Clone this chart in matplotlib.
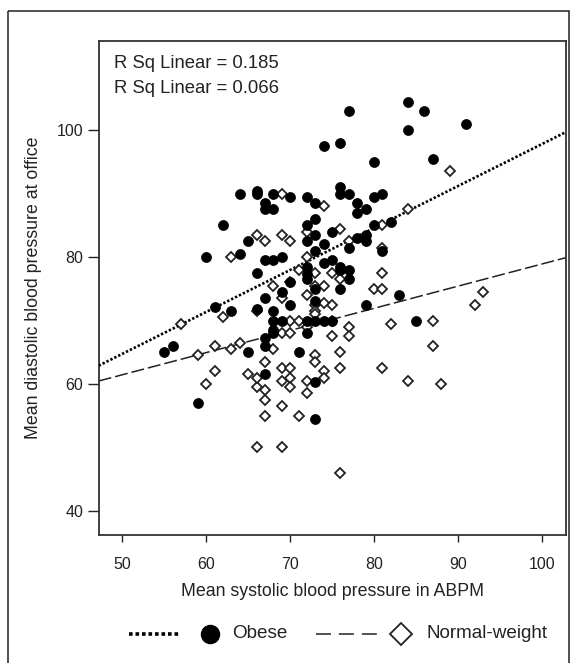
import matplotlib
matplotlib.use("Agg")
import matplotlib.pyplot as plt
import numpy as np
from matplotlib.patches import Rectangle

# ---------------- data ----------------
obese_x = [55, 56, 59, 60, 61, 62, 63, 64, 64, 65, 65, 66, 66, 66, 66,
           67, 67, 68, 68, 67, 68, 69, 67, 68, 68, 69, 69, 70, 70, 70,
           68, 67, 67, 67, 71, 72, 73, 73, 72, 73, 72, 74, 73, 74, 72,
           72, 72, 73, 73, 72, 73, 74, 72, 73, 73, 74, 75, 75, 76, 76,
           76, 77, 76, 76, 77, 77, 77, 76, 77, 78, 78, 79, 78, 79, 79,
           79, 80, 80, 80, 81, 81, 82, 83, 84, 84, 85, 86, 87, 91, 68, 75]
obese_y = [65.1, 66.0, 57.0, 80.0, 72.1, 85.1, 71.5, 90.0, 80.5, 82.5, 65.1, 90.4, 90.0, 77.5, 71.8,
           88.5, 87.5, 87.5, 90.0, 79.5, 79.5, 80.0, 73.5, 71.5, 70.0, 70.0, 74.5, 89.5, 76.0, 72.5,
           68.5, 67.3, 66.0, 61.6, 65.0, 89.5, 88.5, 86.0, 85.0, 83.5, 82.5, 82.0, 81.0, 79.0, 78.5,
           77.4, 76.5, 75.0, 73.0, 70.0, 70.0, 70.0, 68.0, 60.3, 54.5, 97.5, 84.0, 79.5, 98.0, 91.0,
           90.0, 90.0, 78.5, 75.0, 78.0, 81.5, 76.5, 78.0, 103.0, 88.5, 87.0, 87.5, 83.0, 83.5, 82.5,
           72.5, 95.0, 89.5, 85.0, 90.0, 81.0, 85.5, 74.0, 104.5, 100.0, 70.0, 103.0, 95.5, 101.0, 68.0, 70.0]

normal_x = [57, 59, 60, 61, 61, 62, 63, 63, 64, 65, 66, 66, 66, 66, 66,
            67, 67, 67, 67, 67, 68, 68, 69, 69, 69, 69, 69, 69, 69, 69,
            70, 70, 70, 70, 70, 70, 70, 71, 71, 71, 72, 72, 72, 72, 72,
            72, 73, 73, 73, 73, 73, 73, 74, 74, 74, 74, 75, 75, 75, 75,
            76, 76, 76, 76, 76, 77, 77, 77, 80, 81, 81, 81, 81, 81, 82,
            84, 84, 87, 87, 88, 89, 92, 93, 73, 74]
normal_y = [69.5, 64.5, 60.0, 62.0, 66.0, 70.5, 65.5, 80.0, 66.5, 61.5, 83.5, 71.5, 59.5, 61.0, 50.0,
            82.5, 63.5, 59.0, 57.5, 55.0, 75.5, 65.5, 90.0, 83.5, 73.5, 68.0, 62.5, 60.5, 56.5, 50.0,
            82.5, 76.0, 70.0, 68.0, 62.5, 61.0, 59.5, 78.0, 70.0, 55.0, 84.0, 80.0, 74.0, 69.0, 60.5,
            58.5, 77.5, 75.5, 72.5, 71.5, 64.5, 63.5, 88.0, 75.5, 62.0, 61.0, 77.5, 72.5, 70.0, 67.5,
            84.5, 76.5, 65.0, 62.5, 46.0, 82.5, 69.0, 67.5, 75.0, 85.0, 81.5, 77.5, 75.0, 62.5, 69.5,
            87.5, 60.5, 70.0, 66.0, 60.0, 93.5, 72.5, 74.5, 71.0, 72.7]

# fitted lines (intercept, slope)
fit_obese = (31.7, 0.661)
fit_normal = (44.0, 0.349)

x_ticks = [50, 60, 70, 80, 90, 100]
y_ticks = [40, 60, 80, 100]
r2_labels = ["R Sq Linear = 0.185", "R Sq Linear = 0.066"]
legend_labels = ["Obese", "Normal-weight"]

# ---------------- figure ----------------
W, H = 573, 663
fig = plt.figure(figsize=(W / 100, H / 100), dpi=100)

narrow = ["Liberation Sans Narrow", "Liberation Sans", "DejaVu Sans"]
regular = ["Liberation Sans", "DejaVu Sans"]

# background canvas in pixel coords (frame + legend)
bg = fig.add_axes([0, 0, 1, 1])
bg.set_xlim(0, W)
bg.set_ylim(H, 0)
bg.axis("off")
bg.add_patch(Rectangle((8, 10.5), 561, 670, fill=False, lw=1.1, ec="#222222"))

# main axes
L, R, T, B = 98.7, 565.5, 41.4, 534.9
ax = fig.add_axes([L / W, 1 - B / H, (R - L) / W, (B - T) / H])
ax.set_xlim(47.17, 102.83)
ax.set_ylim(36.2, 114.0)

xs = np.array([ax.get_xlim()[0], ax.get_xlim()[1]])
ax.plot(xs, fit_obese[0] + fit_obese[1] * xs, color="black", lw=1.9,
        linestyle=(0, (0.9, 0.75)), dash_capstyle="butt", zorder=3)
ax.plot(xs, fit_normal[0] + fit_normal[1] * xs, color="#222222", lw=1.1,
        linestyle=(0, (8.5, 2.6)), zorder=3)

ax.plot(normal_x, normal_y, linestyle="none", marker="D", ms=5.6,
        mfc="white", mec="#222222", mew=1.3, zorder=4)
ax.plot(obese_x, obese_y, linestyle="none", marker="o", ms=7.2,
        mfc="black", mec="black", mew=0.5, zorder=5)

ax.set_xticks(x_ticks)
ax.set_yticks(y_ticks)
ax.tick_params(axis="x", direction="out", length=5, width=1.0, pad=11,
               labelsize=11.5, colors="#222222")
ax.tick_params(axis="y", direction="out", length=8, width=1.0, pad=3,
               labelsize=11.5, colors="#222222")
for lab in ax.get_xticklabels() + ax.get_yticklabels():
    lab.set_family(regular)
for sp in ax.spines.values():
    sp.set_linewidth(1.3)
    sp.set_color("#333333")

ax.set_xlabel("Mean systolic blood pressure in ABPM", family=regular,
              fontsize=12.8, color="#222222", labelpad=8)
ax.set_ylabel("Mean diastolic blood pressure at office", family=regular,
              fontsize=12.8, color="#222222", labelpad=11)

for i, txt in enumerate(r2_labels):
    ax.text(0.033, 0.955 - i * 0.05, txt, transform=ax.transAxes,
            family=narrow, fontsize=13.3, va="center", ha="left",
            color="#222222")

# legend drawn by hand (pixel coords on background axes)
ly = 634
bg.plot([129, 181], [ly, ly], color="black", lw=2.6,
        linestyle=(0, (1.0, 0.8)), dash_capstyle="butt")
bg.plot([210], [ly], marker="o", ms=13, mfc="black", mec="black",
        linestyle="none")
bg.text(232, ly, legend_labels[0], family=narrow, fontsize=13.6,
        va="center", ha="left", color="#222222")
bg.plot([316, 377], [ly, ly], color="#222222", lw=1.1,
        linestyle=(0, (9.8, 5.2)))
bg.plot([401], [ly], marker="D", ms=11, mfc="white", mec="#222222",
        mew=1.3, linestyle="none")
bg.text(426, ly, legend_labels[1], family=narrow, fontsize=13.6,
        va="center", ha="left", color="#222222")

fig.savefig("out.png", dpi=100)
